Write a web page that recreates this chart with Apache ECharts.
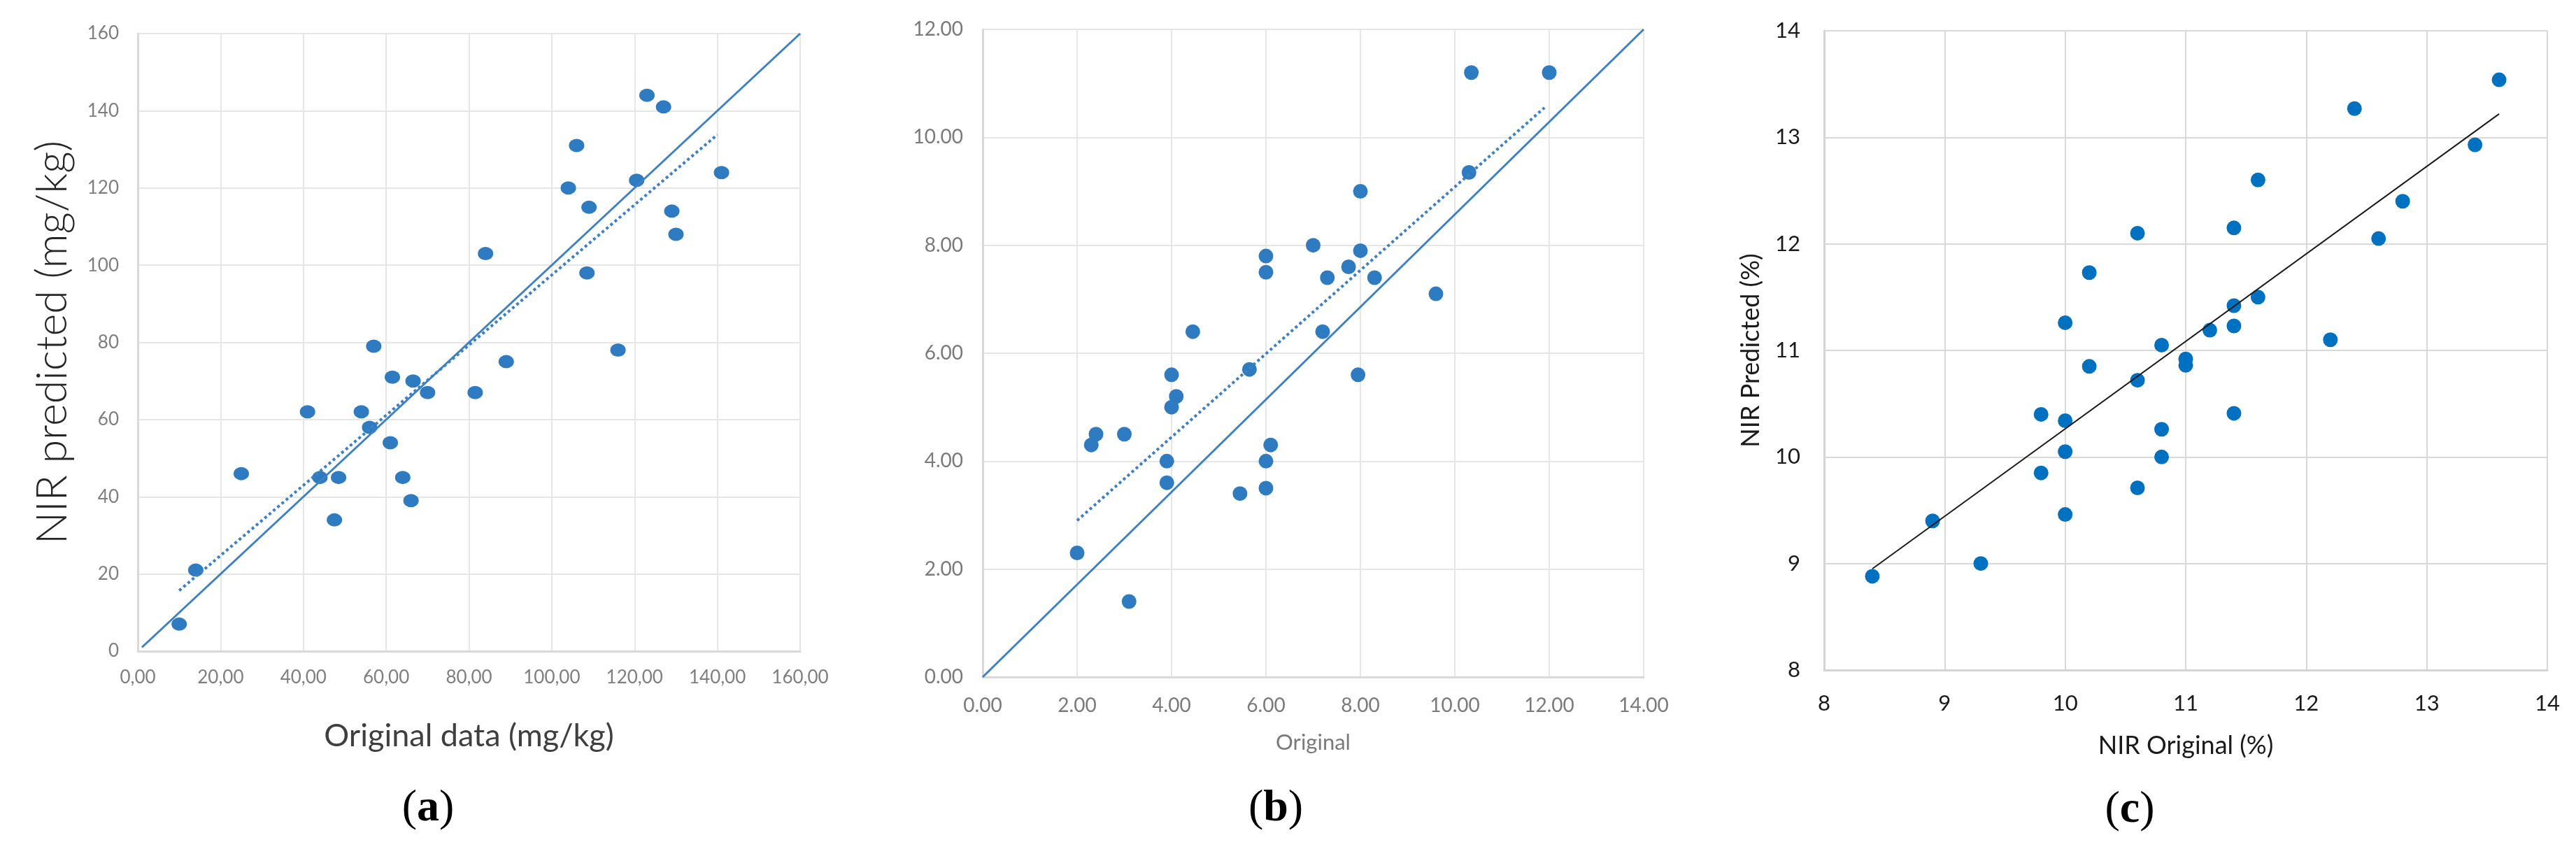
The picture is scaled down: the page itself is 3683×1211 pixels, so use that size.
<!DOCTYPE html>
<html>
<head>
<meta charset="utf-8">
<script src="https://cdn.jsdelivr.net/npm/echarts@6/dist/echarts.min.js"></script>
<style>
  html, body { margin: 0; padding: 0; background: #fff; }
  #main { width: 3683px; height: 1211px; }
</style>
</head>
<body>
<div id="main"></div>
<script>
// panel (a): original vs NIR predicted, mg/kg
const origA = [10, 14, 25, 41, 44, 48.5, 47.5, 54, 56, 57, 61.5, 61, 64, 66.5, 66, 70, 81.5, 84, 89, 104, 106, 109, 108.5, 116, 120.5, 123, 127, 129, 130, 141]
const predA = [7, 21, 46, 62, 45, 45, 34, 62, 58, 79, 71, 54, 45, 70, 39, 67, 67, 103, 75, 120, 131, 115, 98, 78, 122, 144, 141, 114, 108, 124]
const refA = [[1, 1], [160, 160]]
const trendA = [[10, 15.7], [140, 133.8]]
const xTicksA = [0, 20, 40, 60, 80, 100, 120, 140, 160]
const yTicksA = [0, 20, 40, 60, 80, 100, 120, 140, 160]

// panel (b)
const origB = [2.0, 2.3, 2.4, 3.0, 3.1, 3.9, 3.9, 4.0, 4.0, 4.1, 4.45, 5.45, 5.65, 6.0, 6.0, 6.0, 6.0, 6.1, 7.0, 7.3, 7.2, 7.75, 8.0, 8.0, 7.95, 8.3, 9.6, 10.3, 10.35, 12.0]
const predB = [2.3, 4.3, 4.5, 4.5, 1.4, 3.6, 4.0, 5.0, 5.6, 5.2, 6.4, 3.4, 5.7, 7.8, 7.5, 4.0, 3.5, 4.3, 8.0, 7.4, 6.4, 7.6, 9.0, 7.9, 5.6, 7.4, 7.1, 9.35, 11.2, 11.2]
const refB = [[0, 0], [14, 12]]
const trendB = [[2, 2.9], [11.9, 10.55]]
const xTicksB = [0, 2, 4, 6, 8, 10, 12, 14]
const yTicksB = [0, 2, 4, 6, 8, 10, 12]

// panel (c), %
const origC = [8.4, 8.9, 9.3, 9.8, 9.8, 10.0, 10.0, 10.0, 10.0, 10.2, 10.2, 10.6, 10.6, 10.6, 10.8, 10.8, 10.8, 11.0, 11.0, 11.2, 11.4, 11.4, 11.4, 11.4, 11.6, 11.6, 12.2, 12.4, 12.6, 12.8, 13.4, 13.6]
const predC = [8.88, 9.4, 9.0, 10.4, 9.85, 11.26, 10.34, 10.05, 9.46, 11.73, 10.85, 12.1, 10.72, 9.71, 11.05, 10.26, 10.0, 10.92, 10.86, 11.19, 12.15, 11.42, 11.23, 10.41, 12.6, 11.5, 11.1, 13.27, 12.05, 12.4, 12.93, 13.54]
const trendC = [[8.4, 8.95], [13.6, 13.22]]
const xTicksC = [8, 9, 10, 11, 12, 13, 14]
const yTicksC = [8, 9, 10, 11, 12, 13, 14]

const pairs = (xs, ys) => xs.map((x, i) => [x, ys[i]])
const font = 'Lato'

const valueAxis = (ticks, idx, opts) => ({
  type: 'value',
  gridIndex: idx,
  min: ticks[0],
  max: ticks[ticks.length - 1],
  interval: ticks[1] - ticks[0],
  axisTick: { show: false },
  axisLine: { show: true, lineStyle: { color: opts.axisColor, width: 3 } },
  splitLine: { show: true, lineStyle: { color: opts.gridColor, width: 2 } },
  axisLabel: {
    color: opts.labelColor,
    fontFamily: font,
    fontSize: opts.labelSize,
    margin: opts.margin,
    formatter: opts.fmt,
  },
  name: opts.name || '',
  nameLocation: 'middle',
  nameGap: opts.nameGap || 0,
  nameTextStyle: {
    color: opts.nameColor,
    fontFamily: font,
    fontSize: opts.nameSize,
    fontWeight: opts.nameWeight || 'normal',
  },
})

const blueA = '#2e7bc2'
const lineBlue = '#3d80c3'
const blueC = '#0070c0'

const myChart = echarts.init(document.getElementById('main'))
const option = {
  backgroundColor: '#ffffff',
  animation: false,
  grid: [
    { left: 197, top: 48, width: 947, height: 883 },
    { left: 1405, top: 42, width: 945, height: 926 },
    { left: 2608, top: 44, width: 1034, height: 914 },
  ],
  xAxis: [
    valueAxis(xTicksA, 0, {
      axisColor: '#d9d9d9', gridColor: '#e6e6e6', labelColor: '#7f7f7f', labelSize: 26, margin: 25,
      fmt: (v) => v.toFixed(2).replace('.', ','),
      name: 'Original data (mg/kg)', nameGap: 99, nameColor: '#3f3f3f', nameSize: 45,
    }),
    valueAxis(xTicksB, 1, {
      axisColor: '#d9d9d9', gridColor: '#e6e6e6', labelColor: '#7a7a7a', labelSize: 28, margin: 27,
      fmt: (v) => v.toFixed(2),
      name: 'Original', nameGap: 78, nameColor: '#7a7a7a', nameSize: 31,
    }),
    valueAxis(xTicksC, 2, {
      axisColor: '#d4d4d4', gridColor: '#d9d9d9', labelColor: '#1a1a1a', labelSize: 31, margin: 32,
      fmt: (v) => String(v),
      name: 'NIR Original (%)', nameGap: 90, nameColor: '#1a1a1a', nameSize: 36,
    }),
  ],
  yAxis: [
    valueAxis(yTicksA, 0, {
      axisColor: '#d9d9d9', gridColor: '#e6e6e6', labelColor: '#7f7f7f', labelSize: 26, margin: 27,
      fmt: (v) => String(v),
      name: 'NIR predicted (mg/kg)', nameGap: 91, nameColor: '#262626', nameSize: 61,
      nameWeight: 300,
    }),
    valueAxis(yTicksB, 1, {
      axisColor: '#d9d9d9', gridColor: '#e6e6e6', labelColor: '#7a7a7a', labelSize: 28, margin: 28,
      fmt: (v) => v.toFixed(2),
    }),
    valueAxis(yTicksC, 2, {
      axisColor: '#d4d4d4', gridColor: '#d9d9d9', labelColor: '#1a1a1a', labelSize: 31, margin: 34,
      fmt: (v) => String(v),
      name: 'NIR Predicted (%)', nameGap: 87, nameColor: '#1a1a1a', nameSize: 36,
    }),
  ],
  series: [
    { type: 'line', xAxisIndex: 0, yAxisIndex: 0, data: refA, symbol: 'none', silent: true,
      lineStyle: { color: lineBlue, width: 3 } },
    { type: 'line', xAxisIndex: 0, yAxisIndex: 0, data: trendA, symbol: 'none', silent: true,
      lineStyle: { color: lineBlue, width: 4, type: [4, 4] } },
    { type: 'scatter', xAxisIndex: 0, yAxisIndex: 0, data: pairs(origA, predA), symbolSize: [22, 19],
      itemStyle: { color: blueA, opacity: 1 } },

    { type: 'line', xAxisIndex: 1, yAxisIndex: 1, data: refB, symbol: 'none', silent: true,
      lineStyle: { color: lineBlue, width: 3 } },
    { type: 'line', xAxisIndex: 1, yAxisIndex: 1, data: trendB, symbol: 'none', silent: true,
      lineStyle: { color: lineBlue, width: 4, type: [4, 4] } },
    { type: 'scatter', xAxisIndex: 1, yAxisIndex: 1, data: pairs(origB, predB), symbolSize: 21,
      itemStyle: { color: blueA, opacity: 1 } },

    { type: 'line', xAxisIndex: 2, yAxisIndex: 2, data: trendC, symbol: 'none', silent: true,
      lineStyle: { color: '#1a1a1a', width: 2 } },
    { type: 'scatter', xAxisIndex: 2, yAxisIndex: 2, data: pairs(origC, predC), symbolSize: 21,
      itemStyle: { color: blueC, opacity: 1 } },
  ],
  graphic: [
    ['a', 612, 1156],
    ['b', 1824, 1156],
    ['c', 3045, 1158],
  ].map(([t, x, y]) => ({
    type: 'text',
    x: x,
    y: y,
    style: {
      text: '{p|(}{b|' + t + '}{p|)}',
      align: 'center',
      verticalAlign: 'middle',
      rich: {
        p: { fontFamily: 'Liberation Serif', fontSize: 64, fill: '#000' },
        b: { fontFamily: 'Liberation Serif', fontSize: 64, fontWeight: 'bold', fill: '#000' },
      },
    },
  })),
}
option && myChart.setOption(option)
</script>
</body>
</html>
